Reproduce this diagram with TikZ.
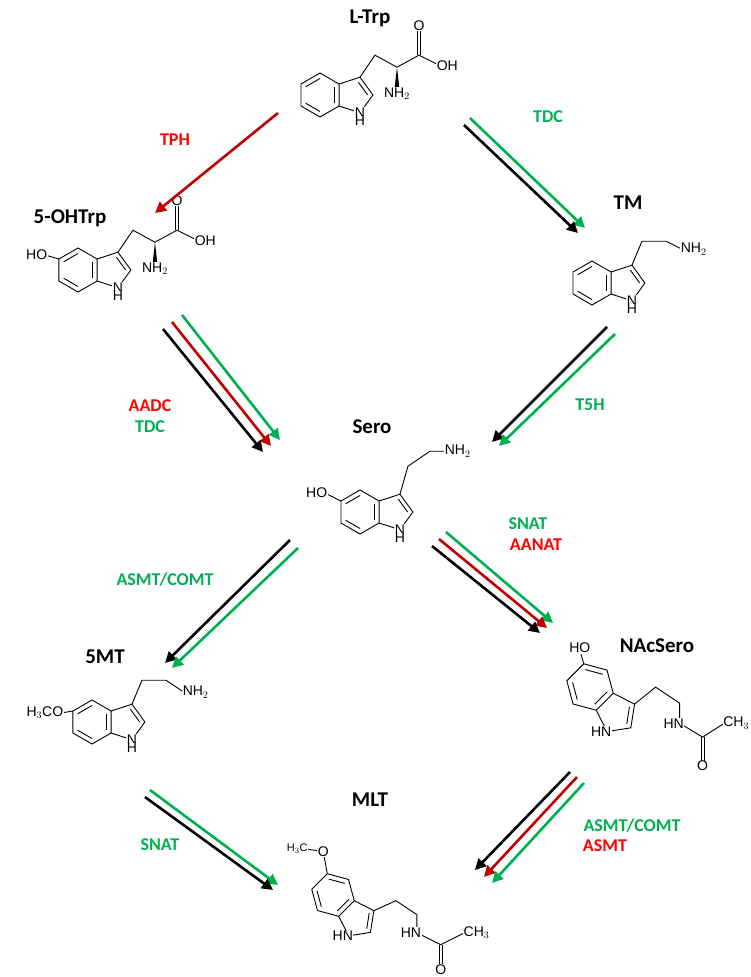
\documentclass[tikz,border=0pt]{standalone}
\usepackage{fontspec}
\setmainfont{Carlito}
\newfontfamily\atomfont{Liberation Sans}
\usetikzlibrary{arrows.meta}

\definecolor{enzred}{RGB}{192,0,0}
\definecolor{txtred}{RGB}{255,0,0}
\definecolor{enzgreen}{RGB}{0,176,80}

% indole ring: name, x, y (px from top), rotation, bond length
\newcommand{\indole}[5]{%
  \begin{scope}[shift={(#2,-#3)},rotate=#4]
    \coordinate (#1-v1) at (30:#5);  \coordinate (#1-v2) at (90:#5);
    \coordinate (#1-v3) at (150:#5); \coordinate (#1-v4) at (210:#5);
    \coordinate (#1-v5) at (270:#5); \coordinate (#1-v6) at (330:#5);
    \coordinate (#1-c3) at ({1.817*#5},{0.809*#5});
    \coordinate (#1-c2) at ({2.405*#5},0);
    \coordinate (#1-n) at ({1.817*#5},{-0.809*#5});
    \coordinate (#1-c5) at (#1-v3);
    \draw[bond] (#1-v1) -- (#1-v2) -- (#1-v3) -- (#1-v4) -- (#1-v5) -- (#1-v6) -- cycle;
    \draw[bond] (#1-v1) -- (#1-c3) -- (#1-c2) -- (#1-n) -- (#1-v6);
    \draw[bond] (90:0.75*#5) -- (150:0.75*#5);
    \draw[bond] (210:0.75*#5) -- (270:0.75*#5);
    \draw[bond] (330:0.75*#5) -- (30:0.75*#5);
    \draw[bond] ({1.554*#5+0.72*0.263*#5},{0.72*0.809*#5}) -- ({1.554*#5+0.72*0.851*#5},0);
  \end{scope}}

\tikzset{
  bond/.style={line width=0.9pt},
  atom/.style={font=\atomfont\fontsize{14}{14}\selectfont,fill=white,inner sep=0.6pt},
  title/.style={font=\fontsize{21}{21}\selectfont\bfseries},
  enz/.style={font=\fontsize{18}{18}\selectfont\bfseries},
  rx/.style={line width=2.6pt,-{Triangle[length=11pt,width=11pt]}}
}

\begin{document}
\begin{tikzpicture}[x=1pt,y=1pt]
  \useasboundingbox (0,0) rectangle (751,-977);

  % ---- L-Trp
  \indole{trp}{320}{95}{0}{22}
  \draw[bond] (trp-c3) -- ++(15,22) coordinate (trp-cb) -- ++(22,-12) coordinate (trp-ca)
    -- ++(22,12) coordinate (trp-cc);
  \draw[bond] (trp-cc) ++(-1.6,0) -- ++(0,24) (trp-cc) ++(1.6,0) -- ++(0,24);
  \draw[bond] (trp-cc) -- ++(20,-10) coordinate (trp-oh);
  \fill (trp-ca) -- ++(-2.5,-22) -- ++(5,0) -- cycle;
  \node[atom] (trpO) at ([yshift=30]trp-cc) {O};
  \node[atom,anchor=west] (trpOH) at ([xshift=-3]trp-oh) {OH};
  \node[atom,anchor=north] (trpNH2) at ([yshift=-20]trp-ca) {NH$_2$};
  \node[atom] (trpN) at (trp-n) {N};
  \node[atom,below=-3pt] (trpH) at (trpN.south) {H};

  % ---- 5-OHTrp
  \indole{htp}{78}{270}{0}{22}
  \draw[bond] (htp-c3) -- ++(15,22) coordinate (htp-cb) -- ++(22,-12) coordinate (htp-ca)
    -- ++(22,12) coordinate (htp-cc);
  \draw[bond] (htp-cc) ++(-1.6,0) -- ++(0,24) (htp-cc) ++(1.6,0) -- ++(0,24);
  \draw[bond] (htp-cc) -- ++(20,-10) coordinate (htp-oh);
  \fill (htp-ca) -- ++(-2.5,-22) -- ++(5,0) -- cycle;
  \draw[bond] (htp-c5) -- ++(-14,4) coordinate (htp-o5);
  \node[atom] (htpO) at ([yshift=30]htp-cc) {O};
  \node[atom,anchor=west] (htpOH) at ([xshift=-3]htp-oh) {OH};
  \node[atom,anchor=north] (htpNH2) at ([yshift=-20]htp-ca) {NH$_2$};
  \node[atom,anchor=east] (htpHO) at ([xshift=3]htp-o5) {HO};
  \node[atom] (htpN) at (htp-n) {N};
  \node[atom,below=-3pt] (htpH) at (htpN.south) {H};

  % ---- TM
  \indole{tm}{592}{283}{0}{22}
  \draw[bond] (tm-c3) -- ++(10,24) -- ++(24,0) -- ++(16,-8) coordinate (tm-nh);
  \node[atom,anchor=west] (tmNH2) at ([xshift=-2]tm-nh) {NH$_2$};
  \node[atom] (tmN) at (tm-n) {N};
  \node[atom,below=-3pt] (tmH) at (tmN.south) {H};

  % ---- Sero
  \indole{ser}{360}{512}{0}{22}
  \draw[bond] (ser-c3) -- ++(8,28) -- ++(22,15) -- ++(16,0) coordinate (ser-nh);
  \draw[bond] (ser-c5) -- ++(-16,8) coordinate (ser-o5);
  \node[atom,anchor=west] (serNH2) at ([xshift=-2]ser-nh) {NH$_2$};
  \node[atom,anchor=east] (serHO) at ([xshift=3]ser-o5) {HO};
  \node[atom] (serN) at (ser-n) {N};
  \node[atom,below=-3pt] (serH) at (serN.south) {H};

  % ---- 5MT
  \indole{mt}{92}{722}{0}{22}
  \draw[bond] (mt-c3) -- ++(10,24) -- ++(24,0) -- ++(18,-12) coordinate (mt-nh);
  \draw[bond] (mt-c5) -- ++(-12,-2) coordinate (mt-o5);
  \node[atom,anchor=west] (mtNH2) at ([xshift=-2]mt-nh) {NH$_2$};
  \node[atom,anchor=east] (mtMeO) at ([xshift=3]mt-o5) {H$_3$CO};
  \node[atom] (mtN) at (mt-n) {N};
  \node[atom,below=-3pt] (mtH) at (mtN.south) {H};

  % ---- NAcSero
  \indole{nas}{590}{687}{-45}{24}
  \draw[bond] (nas-c3) -- ++(21,17) -- ++(24,-16) -- ++(0,-20) coordinate (nas-an);
  \draw[bond] (nas-an) -- ++(23,-14) coordinate (nas-cc) -- ++(22,14) coordinate (nas-me);
  \draw[bond] (nas-cc) ++(-1.6,0) -- ++(0,-24) (nas-cc) ++(1.6,0) -- ++(0,-24);
  \draw[bond] (nas-c5) -- ++(-4,14) coordinate (nas-o5);
  \node[atom] (nasO) at ([yshift=-29]nas-cc) {O};
  \node[atom,anchor=west] (nasMe) at ([xshift=-2]nas-me) {CH$_3$};
  \node[atom,anchor=south] (nasHO) at ([yshift=-4]nas-o5) {HO};
  \node[atom,anchor=base east] (nasHN) at ([xshift=5,yshift=-5]nas-an) {HN};
  \node[atom,anchor=base east] (nasN) at ([xshift=5,yshift=-5]nas-n) {HN};

  % ---- MLT
  \indole{mlt}{333}{895}{-45}{22}
  \draw[bond] (mlt-c3) -- ++(22,10) -- ++(21,-14) -- ++(0,-18) coordinate (mlt-an);
  \draw[bond] (mlt-an) -- ++(24,-12) coordinate (mlt-cc) -- ++(24,12) coordinate (mlt-me);
  \draw[bond] (mlt-cc) ++(-1.6,0) -- ++(0,-20) (mlt-cc) ++(1.6,0) -- ++(0,-20);
  \draw[bond] (mlt-c5) -- ++(-4,22) coordinate (mlt-o5) -- ++(-18,3) coordinate (mlt-me5);
  \node[atom] (mltO) at ([yshift=-25]mlt-cc) {O};
  \node[atom,anchor=west] (mltMe) at ([xshift=-2]mlt-me) {CH$_3$};
  \node[atom] (mltO5) at (mlt-o5) {O};
  \node[atom,anchor=east,font=\atomfont\fontsize{11}{11}\selectfont] (mltMe5) at ([xshift=3]mlt-me5) {H$_3$C};
  \node[atom,anchor=base east] (mltHN) at ([xshift=5,yshift=-5]mlt-an) {HN};
  \node[atom,anchor=base east] (mltN) at ([xshift=5,yshift=-5]mlt-n) {HN};

  % ---- titles
  \node[title] (tLTrp) at (370,-18) {L-Trp};
  \node[title] (tOHTrp) at (70,-218) {5-OHTrp};
  \node[title] (tTM) at (628,-203) {TM};
  \node[title] (tSero) at (372,-427) {Sero};
  \node[title] (t5MT) at (105,-657) {5MT};
  \node[title] (tNAc) at (657,-646) {NAcSero};
  \node[title] (tMLT) at (370,-800) {MLT};

  % ---- enzymes
  \node[enz,text=txtred] (eTPH) at (175,-140) {TPH};
  \node[enz,text=enzgreen] (eTDC) at (548,-117) {TDC};
  \node[enz,text=txtred] (eAADC) at (150,-406) {AADC};
  \node[enz,text=enzgreen] (eTDCb) at (150,-427) {TDC};
  \node[enz,text=enzgreen] (eT5H) at (590,-405) {T5H};
  \node[enz,text=enzgreen] (eSNAT) at (528,-524) {SNAT};
  \node[enz,text=txtred] (eAANAT) at (536,-545) {AANAT};
  \node[enz,text=enzgreen] (eASMT) at (165,-580) {ASMT/COMT};
  \node[enz,text=enzgreen] (eSNATb) at (160,-845) {SNAT};
  \node[enz,text=enzgreen] (eASMTb) at (632,-826) {ASMT/COMT};
  \node[enz,text=txtred] (eASMTc) at (605,-846) {ASMT};

  % ---- reaction arrows
  \draw[rx,enzred] (278,-113) -- (155,-213);
  \draw[rx,enzgreen] (470,-118) -- (585,-228);
  \draw[rx,black] (464,-125) -- (578,-233);
  \draw[rx,enzgreen] (182,-315) -- (280,-440);
  \draw[rx,enzred] (172,-322) -- (271,-446);
  \draw[rx,black] (163,-329) -- (263,-452);
  \draw[rx,black] (607,-327) -- (492,-442);
  \draw[rx,enzgreen] (615,-334) -- (499,-446);
  \draw[rx,black] (290,-540) -- (165,-663);
  \draw[rx,enzgreen] (298,-548) -- (172,-668);
  \draw[rx,enzgreen] (446,-532) -- (553,-623);
  \draw[rx,enzred] (439,-539) -- (547,-628);
  \draw[rx,black] (432,-546) -- (540,-633);
  \draw[rx,enzgreen] (150,-790) -- (278,-885);
  \draw[rx,black] (145,-797) -- (273,-890);
  \draw[rx,black] (570,-772) -- (475,-870);
  \draw[rx,enzred] (577,-777) -- (484,-877);
  \draw[rx,enzgreen] (584,-783) -- (492,-883);
\end{tikzpicture}
\end{document}
